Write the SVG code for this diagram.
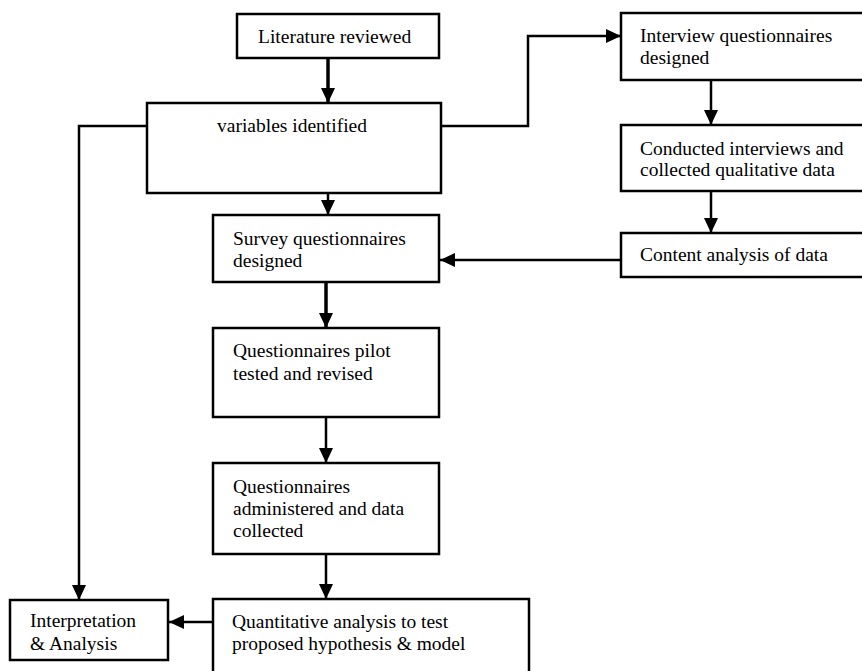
<svg xmlns="http://www.w3.org/2000/svg" width="862" height="671" viewBox="0 0 862 671">
<style>
.box{fill:#fff;stroke:#000;stroke-width:2.5}
.t{font-family:"Liberation Serif","Times New Roman",serif;font-size:19.5px;fill:#000}
.c{fill:none;stroke:#000;stroke-width:2.5}
.thick{stroke-width:3.5}
</style>
<defs>
<marker id="ah" markerUnits="userSpaceOnUse" markerWidth="16" markerHeight="14" viewBox="0 0 16 14" refX="15" refY="7" orient="auto">
<path d="M0,0 L15,7 L0,14 Z" fill="#000"/>
</marker>
</defs>
<g id="connectors">
<path class="c thick" d="M328 58 V103" marker-end="url(#ah)"/>
<path class="c" d="M328 193 V215" marker-end="url(#ah)"/>
<path class="c thick" d="M326 282 V328" marker-end="url(#ah)"/>
<path class="c" d="M326 417 V463" marker-end="url(#ah)"/>
<path class="c" d="M326 554 V599" marker-end="url(#ah)"/>
<path class="c" d="M441 126 H528 V36 H621" marker-end="url(#ah)"/>
<path class="c" d="M711 80 V125" marker-end="url(#ah)"/>
<path class="c" d="M711 191 V233" marker-end="url(#ah)"/>
<path class="c" d="M621 260 H440" marker-end="url(#ah)"/>
<path class="c" d="M213 622 H169" marker-end="url(#ah)"/>
<path class="c" d="M147 126 H79 V600" marker-end="url(#ah)"/>
</g>
<g id="literature">
<rect class="box" x="237" y="14" width="202" height="44"/>
<text class="t" x="258" y="43">Literature reviewed</text>
</g>
<g id="variables">
<rect class="box" x="147" y="103" width="294" height="90"/>
<text class="t" x="217" y="132">variables identified</text>
</g>
<g id="interview">
<rect class="box" x="621" y="13" width="245" height="67"/>
<text class="t" x="640" y="42">Interview questionnaires</text>
<text class="t" x="640" y="64">designed</text>
</g>
<g id="conducted">
<rect class="box" x="621" y="125" width="245" height="66"/>
<text class="t" x="640" y="155">Conducted interviews and</text>
<text class="t" x="640" y="176">collected qualitative data</text>
</g>
<g id="content">
<rect class="box" x="621" y="233" width="245" height="44"/>
<text class="t" x="640" y="261">Content analysis of data</text>
</g>
<g id="survey">
<rect class="box" x="213" y="215" width="226" height="67"/>
<text class="t" x="233" y="245">Survey questionnaires</text>
<text class="t" x="233" y="267">designed</text>
</g>
<g id="pilot">
<rect class="box" x="213" y="328" width="226" height="89"/>
<text class="t" x="233" y="357">Questionnaires pilot</text>
<text class="t" x="233" y="380">tested and revised</text>
</g>
<g id="administered">
<rect class="box" x="213" y="463" width="226" height="91"/>
<text class="t" x="233" y="493">Questionnaires</text>
<text class="t" x="233" y="515">administered and data</text>
<text class="t" x="233" y="537">collected</text>
</g>
<g id="quantitative">
<rect class="box" x="213" y="599" width="316" height="80"/>
<text class="t" x="232" y="628">Quantitative analysis to test</text>
<text class="t" x="232" y="650">proposed hypothesis &amp; model</text>
</g>
<g id="interpretation">
<rect class="box" x="10" y="600" width="158" height="60"/>
<text class="t" x="30" y="627">Interpretation</text>
<text class="t" x="30" y="650">&amp; Analysis</text>
</g>
</svg>
